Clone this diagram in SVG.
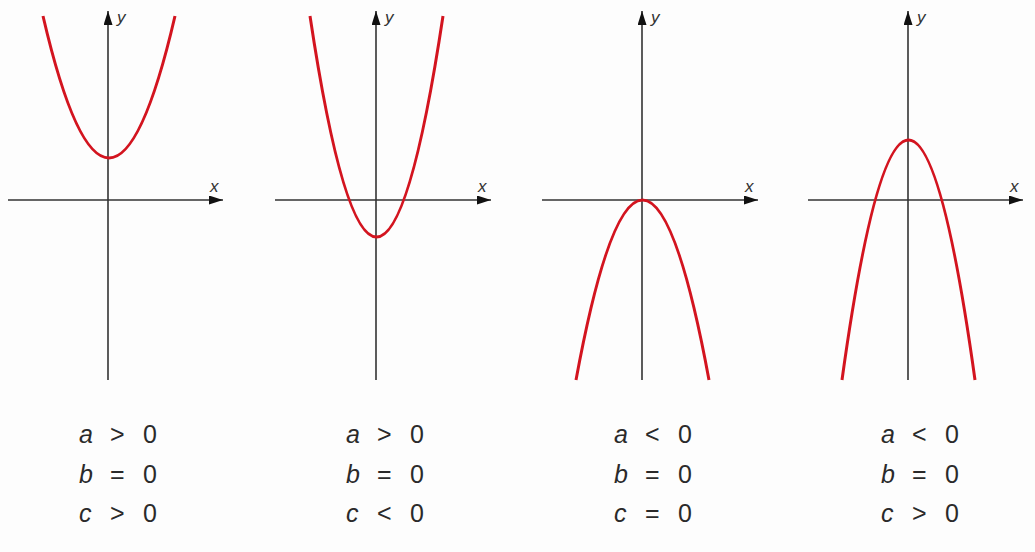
<svg xmlns="http://www.w3.org/2000/svg" width="1035" height="552" viewBox="0 0 1035 552">
  <style>
    .axis { stroke: #333; stroke-width: 1.6; fill: none; marker-end: url(#arrow); }
    .curve { stroke: #d3141f; stroke-width: 3; fill: none; stroke-linecap: butt; }
    .lbl { font-family: "Liberation Sans", Arial, sans-serif; font-style: italic; font-size: 17px; fill: #333; }
    .cond { font-family: "Liberation Sans", Arial, sans-serif; font-size: 25px; fill: #2a2a2a; }
    .v { font-style: italic; }
  </style>
  <defs>
    <marker id="arrow" markerUnits="userSpaceOnUse" markerWidth="14" markerHeight="9" refX="14" refY="4.5" orient="auto">
      <path d="M0,0 L14,4.5 L0,9 z" fill="#111"/>
    </marker>
  </defs>
  <rect width="1035" height="552" fill="#fdfdfd"/>

  <g id="graph1">
    <line class="axis" x1="108" y1="380" x2="108" y2="11"/>
    <line class="axis" x1="8" y1="200" x2="223" y2="200"/>
    <text class="lbl" x="117" y="23">y</text>
    <text class="lbl" x="210" y="192">x</text>
    <path class="curve" d="M43,16 Q109,300 175,16"/>
    <text class="cond" y="443"><tspan class="v" x="79">a</tspan><tspan x="110">&gt;</tspan><tspan x="143">0</tspan></text>
    <text class="cond" y="483"><tspan class="v" x="79">b</tspan><tspan x="110">=</tspan><tspan x="143">0</tspan></text>
    <text class="cond" y="522"><tspan class="v" x="79">c</tspan><tspan x="110">&gt;</tspan><tspan x="143">0</tspan></text>
  </g>

  <g id="graph2">
    <line class="axis" x1="376" y1="380" x2="376" y2="11"/>
    <line class="axis" x1="275" y1="200" x2="491" y2="200"/>
    <text class="lbl" x="385" y="23">y</text>
    <text class="lbl" x="478" y="192">x</text>
    <path class="curve" d="M310,16 Q376.5,458 443,16"/>
    <text class="cond" y="443"><tspan class="v" x="346">a</tspan><tspan x="377">&gt;</tspan><tspan x="410">0</tspan></text>
    <text class="cond" y="483"><tspan class="v" x="346">b</tspan><tspan x="377">=</tspan><tspan x="410">0</tspan></text>
    <text class="cond" y="522"><tspan class="v" x="346">c</tspan><tspan x="377">&lt;</tspan><tspan x="410">0</tspan></text>
  </g>

  <g id="graph3">
    <line class="axis" x1="642" y1="380" x2="642" y2="11"/>
    <line class="axis" x1="542" y1="200" x2="758" y2="200"/>
    <text class="lbl" x="651" y="23">y</text>
    <text class="lbl" x="745" y="192">x</text>
    <path class="curve" d="M576,380 Q642.5,20 709,380"/>
    <text class="cond" y="443"><tspan class="v" x="614">a</tspan><tspan x="645">&lt;</tspan><tspan x="678">0</tspan></text>
    <text class="cond" y="483"><tspan class="v" x="614">b</tspan><tspan x="645">=</tspan><tspan x="678">0</tspan></text>
    <text class="cond" y="522"><tspan class="v" x="614">c</tspan><tspan x="645">=</tspan><tspan x="678">0</tspan></text>
  </g>

  <g id="graph4">
    <line class="axis" x1="908" y1="380" x2="908" y2="11"/>
    <line class="axis" x1="808" y1="200" x2="1023" y2="200"/>
    <text class="lbl" x="917" y="23">y</text>
    <text class="lbl" x="1010" y="192">x</text>
    <path class="curve" d="M842,380 Q908.5,-100 975,380"/>
    <text class="cond" y="443"><tspan class="v" x="881">a</tspan><tspan x="912">&lt;</tspan><tspan x="945">0</tspan></text>
    <text class="cond" y="483"><tspan class="v" x="881">b</tspan><tspan x="912">=</tspan><tspan x="945">0</tspan></text>
    <text class="cond" y="522"><tspan class="v" x="881">c</tspan><tspan x="912">&gt;</tspan><tspan x="945">0</tspan></text>
  </g>
</svg>
